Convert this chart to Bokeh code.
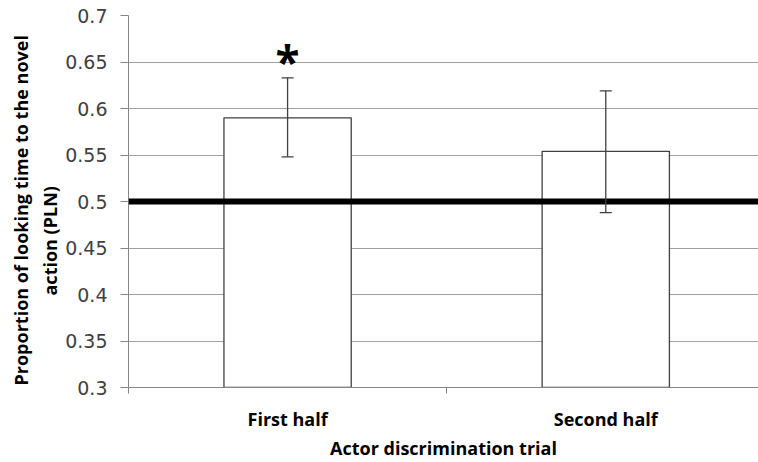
import math
from bokeh.plotting import figure
from bokeh.models import (Range1d, FixedTicker, Span, Whisker, TeeHead, ColumnDataSource,
                          Title, LinearAxis)
from bokeh.core.properties import value
from bokeh.embed import file_html
from bokeh.resources import INLINE

# ---- data ----
categories = ["First half", "Second half"]
cat_pos = [0.5, 1.5]
means = [0.590, 0.554]
err_upper = [0.633, 0.619]
err_lower = [0.548, 0.488]
y_ticks = [0.3, 0.35, 0.4, 0.45, 0.5, 0.55, 0.6, 0.65, 0.7]
y_tick_labels = ["0.3", "0.35", "0.4", "0.45", "0.5", "0.55", "0.6", "0.65", "0.7"]
chance_level = 0.5
significant = ["*", ""]
y_title_lines = ["Proportion of looking time to the novel", "action (PLN)"]
x_title = "Actor discrimination trial"

AX = "#868686"
TXT = "#404040"
BOLD_FONT = "Open Sans"

p = figure(width=758, height=462, output_backend="svg", toolbar_location=None,
           x_range=Range1d(0, 1.98), y_range=Range1d(0.3, 0.7),
           min_border_left=128, min_border_right=0, min_border_top=15, min_border_bottom=75,
           x_axis_location=None, y_axis_location=None)
p.outline_line_color = None
p.background_fill_color = "white"
p.border_fill_color = "white"

# y axis
yax = LinearAxis(ticker=FixedTicker(ticks=y_ticks, minor_ticks=[]))
yax.major_label_overrides = {t: l for t, l in zip(y_ticks, y_tick_labels)}
yax.axis_line_color = AX
yax.major_tick_line_color = AX
yax.major_tick_in = 0
yax.major_tick_out = 8
yax.minor_tick_line_color = None
yax.major_label_standoff = 13
yax.major_label_text_font = "DejaVu Sans"
yax.major_label_text_font_size = "19px"
yax.major_label_text_color = TXT
p.add_layout(yax, "left")

# y axis title, two lines (inner line first)
t2 = Title(text=y_title_lines[1], align="left", offset=92, standoff=1,
           text_font=BOLD_FONT, text_font_style="bold", text_font_size="18px",
           text_color="black")
t1 = Title(text=y_title_lines[0], align="left", offset=2, standoff=6,
           text_font=BOLD_FONT, text_font_style="bold", text_font_size="18px",
           text_color="black")
p.add_layout(t2, "left")
p.add_layout(t1, "left")

# x axis
xax = LinearAxis(ticker=FixedTicker(ticks=cat_pos, minor_ticks=[0, 1, 2]))
xax.major_label_overrides = {c: n for c, n in zip(cat_pos, categories)}
xax.axis_line_color = AX
xax.major_tick_line_color = None
xax.major_tick_in = 0
xax.major_tick_out = 0
xax.minor_tick_line_color = AX
xax.minor_tick_in = 0
xax.minor_tick_out = 6
xax.major_label_standoff = 13
xax.major_label_text_font = BOLD_FONT
xax.major_label_text_font_style = "bold"
xax.major_label_text_font_size = "18px"
xax.major_label_text_color = "black"
xax.axis_label = x_title
xax.axis_label_text_font = BOLD_FONT
xax.axis_label_text_font_style = "bold"
xax.axis_label_text_font_size = "18px"
xax.axis_label_text_color = "black"
xax.axis_label_standoff = 2
p.add_layout(xax, "below")

# grid
p.ygrid.ticker = FixedTicker(ticks=y_ticks)
p.ygrid.grid_line_color = "#a0a0a0"
p.ygrid.grid_line_width = 1
p.xgrid.grid_line_color = None

src = ColumnDataSource(dict(x=cat_pos, top=means, upper=err_upper, lower=err_lower,
                            sig=significant))

p.vbar(x="x", top="top", bottom=0.3, width=0.4, source=src,
       fill_color="white", line_color=TXT, line_width=1.3)

p.add_layout(Span(location=chance_level, dimension="width", line_color="black",
                  line_width=6))

wh = Whisker(base="x", upper="upper", lower="lower", source=src,
             line_color=TXT, line_width=1.3,
             upper_head=TeeHead(size=12, line_color=TXT, line_width=1.3),
             lower_head=TeeHead(size=12, line_color=TXT, line_width=1.3))
wh.level = "overlay"
p.add_layout(wh)

# significance star above first bar
star_y = [u + 0.018 for u in err_upper]
p.text(x=cat_pos, y=star_y, text=significant, text_align="center",
       text_baseline="alphabetic", text_font=value(BOLD_FONT), text_font_style="bold",
       text_font_size="44px", text_color="black")

open("out.html", "w").write(file_html(p, INLINE))
